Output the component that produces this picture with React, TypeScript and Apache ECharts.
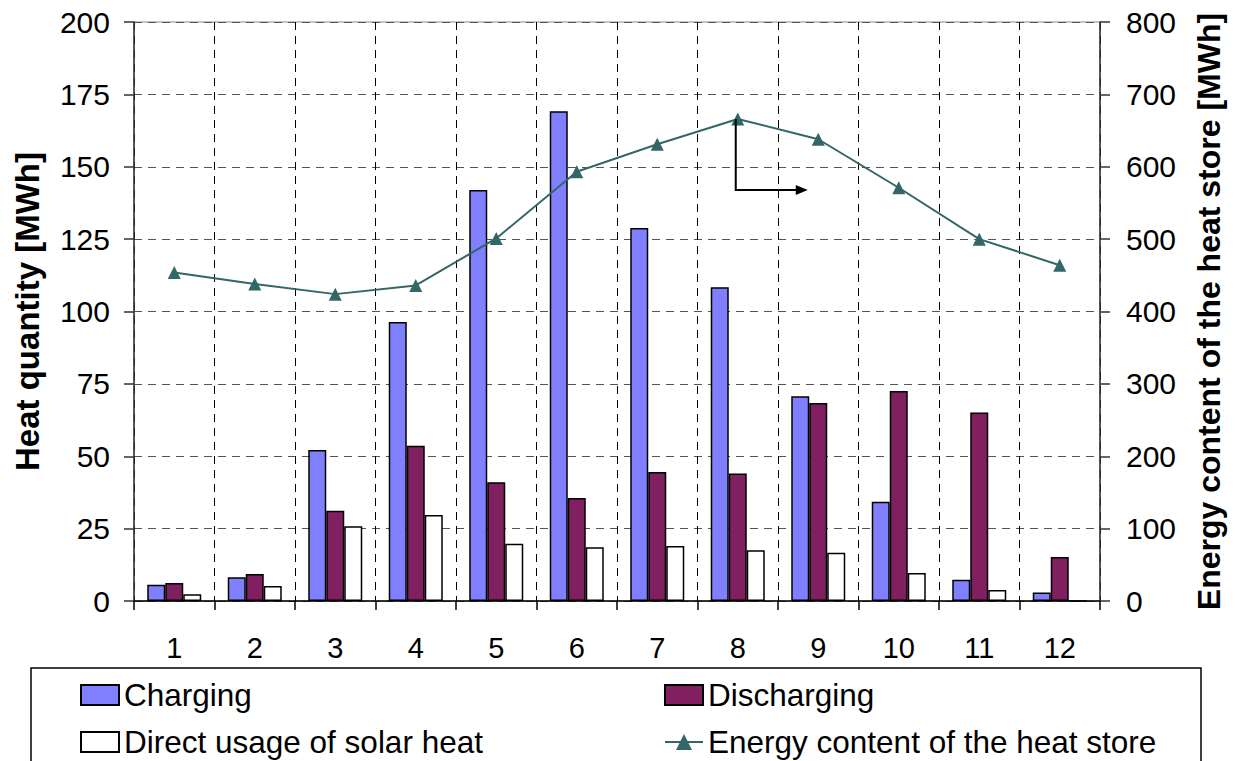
import React, { useEffect, useRef } from "react";
import * as echarts from "echarts";

const months = ["1", "2", "3", "4", "5", "6", "7", "8", "9", "10", "11", "12"];
const charging = [5.6, 8.2, 52.2, 96.4, 142, 169.2, 128.8, 108.4, 70.7, 34.3, 7.3, 2.9];
const discharging = [6.2, 9.3, 31.2, 53.6, 41.0, 35.6, 44.6, 44.0, 68.4, 72.5, 65.1, 15.2];
const directUsage = [2.3, 5.2, 25.8, 29.7, 19.8, 18.6, 19.0, 17.5, 16.7, 9.7, 3.8, 0];
const energyContent = [454, 438, 424, 436, 501, 593, 631, 666, 638, 571, 500, 464];

const FONT = "'Liberation Sans', Arial, sans-serif";
const LINE_COLOR = "#336666";

export default function App() {
  const ref = useRef<HTMLDivElement>(null);

  useEffect(() => {
    if (!ref.current) return;
    const chart = echarts.init(ref.current, undefined, { renderer: "svg" });

    const legendText = { fontFamily: FONT, fontSize: 31.5, color: "#000" };
    const barBase = {
      type: "bar" as const,
      barWidth: 18,
      barGap: "0%",
      itemStyle: { borderColor: "#000", borderWidth: 1.5 },
    };

    chart.setOption({
      animation: false,
      backgroundColor: "#fff",
      textStyle: { fontFamily: FONT },
      grid: {
        left: 134,
        right: 135,
        top: 22,
        bottom: 160,
        show: true,
        borderColor: "#888",
        borderWidth: 1,
      },
      legend: [
        { data: [{ name: "Charging", icon: "rect" }], left: 80, top: 679 },
        { data: [{ name: "Discharging", icon: "rect" }], left: 664, top: 679 },
        { data: [{ name: "Direct usage of solar heat", icon: "rect" }], left: 80, top: 726 },
        { data: ["Energy content of the heat store"], left: 664, top: 726 },
      ].map((l) => ({
        ...l,
        orient: "horizontal",
        itemWidth: 38,
        itemHeight: 20,
        itemGap: 0,
        textStyle: { ...legendText, padding: [0, 0, 0, 0] },
        padding: 0,
      })),
      xAxis: {
        type: "category",
        data: months,
        axisLine: { lineStyle: { color: "#000", width: 1.5 } },
        axisTick: { show: true, length: 9, lineStyle: { color: "#000", width: 1.5 } },
        axisLabel: { fontSize: 29, color: "#000", margin: 32, fontFamily: FONT },
        splitLine: {
          show: true,
          lineStyle: { color: "#000", type: [8, 6], width: 1 },
        },
      },
      yAxis: [
        {
          type: "value",
          min: 0,
          max: 200,
          interval: 25,
          name: "Heat quantity [MWh]",
          nameLocation: "middle",
          nameGap: 90,
          nameTextStyle: { fontSize: 33, fontWeight: "bold", color: "#000", fontFamily: FONT },
          axisLine: { show: true, lineStyle: { color: "#333", width: 1.5 } },
          axisTick: { show: true, length: 10, lineStyle: { color: "#333", width: 1.5 } },
          axisLabel: { fontSize: 30, color: "#000", margin: 24, fontFamily: FONT },
          splitLine: {
            show: true,
            lineStyle: { color: "#555", type: [8, 6], width: 1.2 },
          },
        },
        {
          type: "value",
          min: 0,
          max: 800,
          interval: 100,
          position: "right",
          name: "Energy content of the heat store [MWh]",
          nameLocation: "middle",
          nameGap: 93,
          nameTextStyle: { fontSize: 32, fontWeight: "bold", color: "#000", fontFamily: FONT },
          axisLine: { show: true, lineStyle: { color: "#333", width: 1.5 } },
          axisTick: { show: true, length: 10, lineStyle: { color: "#333", width: 1.5 } },
          axisLabel: { fontSize: 30, color: "#000", margin: 26, fontFamily: FONT },
          splitLine: { show: false },
        },
      ],
      series: [
        { ...barBase, name: "Charging", data: charging, itemStyle: { ...barBase.itemStyle, color: "#8080FF" } },
        { ...barBase, name: "Discharging", data: discharging, itemStyle: { ...barBase.itemStyle, color: "#802060" } },
        { ...barBase, name: "Direct usage of solar heat", data: directUsage, itemStyle: { ...barBase.itemStyle, color: "#FFFFFF" } },
        {
          type: "line",
          name: "Energy content of the heat store",
          yAxisIndex: 1,
          data: energyContent,
          symbol: "triangle",
          symbolSize: 13,
          lineStyle: { color: LINE_COLOR, width: 2 },
          itemStyle: { color: LINE_COLOR },
          z: 5,
        },
      ],
    });

    // annotation arrow anchored at the peak (month 8) of the energy content line
    const peakIndex = 7;
    const p = chart.convertToPixel({ xAxisIndex: 0, yAxisIndex: 1 }, [peakIndex, energyContent[peakIndex]]) as number[];
    const ax = p[0] - 2;
    const ay = p[1];
    const by = ay + 71;
    chart.setOption({
      graphic: [
        {
          type: "polyline",
          shape: { points: [[ax, ay], [ax, by], [ax + 62, by]] },
          style: { stroke: "#000", lineWidth: 2, fill: null },
          z: 10,
        },
        {
          type: "polygon",
          shape: { points: [[ax + 60, by - 5], [ax + 72, by], [ax + 60, by + 5]] },
          style: { fill: "#000" },
          z: 10,
        },
        {
          type: "rect",
          shape: { x: 31, y: 668, width: 1170, height: 150 },
          style: { fill: null, stroke: "#000", lineWidth: 1.5 },
          z: 1,
        },
      ],
    });

    return () => chart.dispose();
  }, []);

  return (
    <div
      ref={ref}
      style={{ position: "fixed", left: 0, top: 0, width: 1235, height: 761 }}
    />
  );
}
